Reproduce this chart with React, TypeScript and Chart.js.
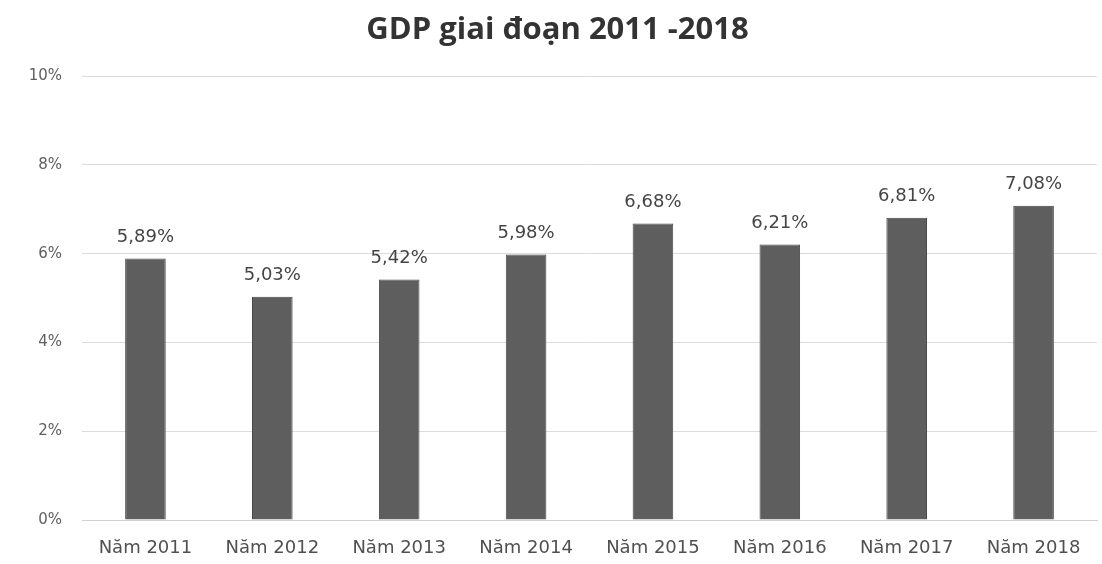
import React, { useEffect, useRef } from "react";
import { Chart, registerables } from "chart.js";

Chart.register(...registerables);

const categories = ["Năm 2011", "Năm 2012", "Năm 2013", "Năm 2014", "Năm 2015", "Năm 2016", "Năm 2017", "Năm 2018"];
const gdpValues = [5.89, 5.03, 5.42, 5.98, 6.68, 6.21, 6.81, 7.08];
const chartTitle = "GDP giai đoạn 2011 -2018";

const fmt = (v: number) => v.toFixed(2).replace(".", ",") + "%";

const valueLabels = {
  id: "valueLabels",
  afterDatasetsDraw(chart: any) {
    const ctx = chart.ctx;
    const meta = chart.getDatasetMeta(0);
    ctx.save();
    ctx.font = "18px 'DejaVu Sans', sans-serif";
    ctx.fillStyle = "#454545";
    ctx.textAlign = "center";
    ctx.textBaseline = "middle";
    meta.data.forEach((bar: any, i: number) => {
      ctx.fillText(fmt(gdpValues[i]), bar.x, bar.y - 21);
    });
    ctx.restore();
  },
};

export default function App() {
  const ref = useRef<HTMLCanvasElement | null>(null);
  useEffect(() => {
    if (!ref.current) return;
    const chart = new Chart(ref.current, {
      type: "bar",
      data: {
        labels: categories,
        datasets: [
          {
            data: gdpValues,
            backgroundColor: "#5e5e5e",
            borderColor: "#474747",
            borderWidth: 1,
            barPercentage: 0.64,
            categoryPercentage: 0.5,
          },
        ],
      },
      options: {
        animation: false,
        responsive: false,
        maintainAspectRatio: false,
        layout: { padding: { top: 0, right: 5, bottom: 0, left: 18 } },
        plugins: {
          legend: { display: false },
          tooltip: { enabled: false },
          title: {
            display: true,
            text: chartTitle,
            color: "#333333",
            font: { family: "'Open Sans', sans-serif", size: 31, weight: "bold", lineHeight: 1.2 },
            padding: { top: 12, bottom: 27 },
          },
        },
        scales: {
          x: {
            afterFit: (s: any) => { s.height = 44; },
            grid: { display: false, drawTicks: false },
            border: { display: true, color: "#d0d0d0" },
            ticks: { color: "#505050", font: { family: "'DejaVu Sans', sans-serif", size: 18 }, padding: 18 },
          },
          y: {
            min: 0,
            max: 10,
            afterFit: (s: any) => { s.width = 64; },
            grid: { color: "#dcdcdc", drawTicks: false },
            border: { display: false },
            ticks: {
              stepSize: 2,
              color: "#606060",
              padding: 20,
              font: { family: "'DejaVu Sans', sans-serif", size: 15 },
              callback: (v: any) => v + "%",
            },
          },
        },
      },
      plugins: [valueLabels],
    });
    return () => chart.destroy();
  }, []);
  return (
    <div style={{ position: "absolute", left: 0, top: 0, width: 1102, height: 564, background: "#fff" }}>
      <canvas ref={ref} width={1102} height={564} />
    </div>
  );
}
